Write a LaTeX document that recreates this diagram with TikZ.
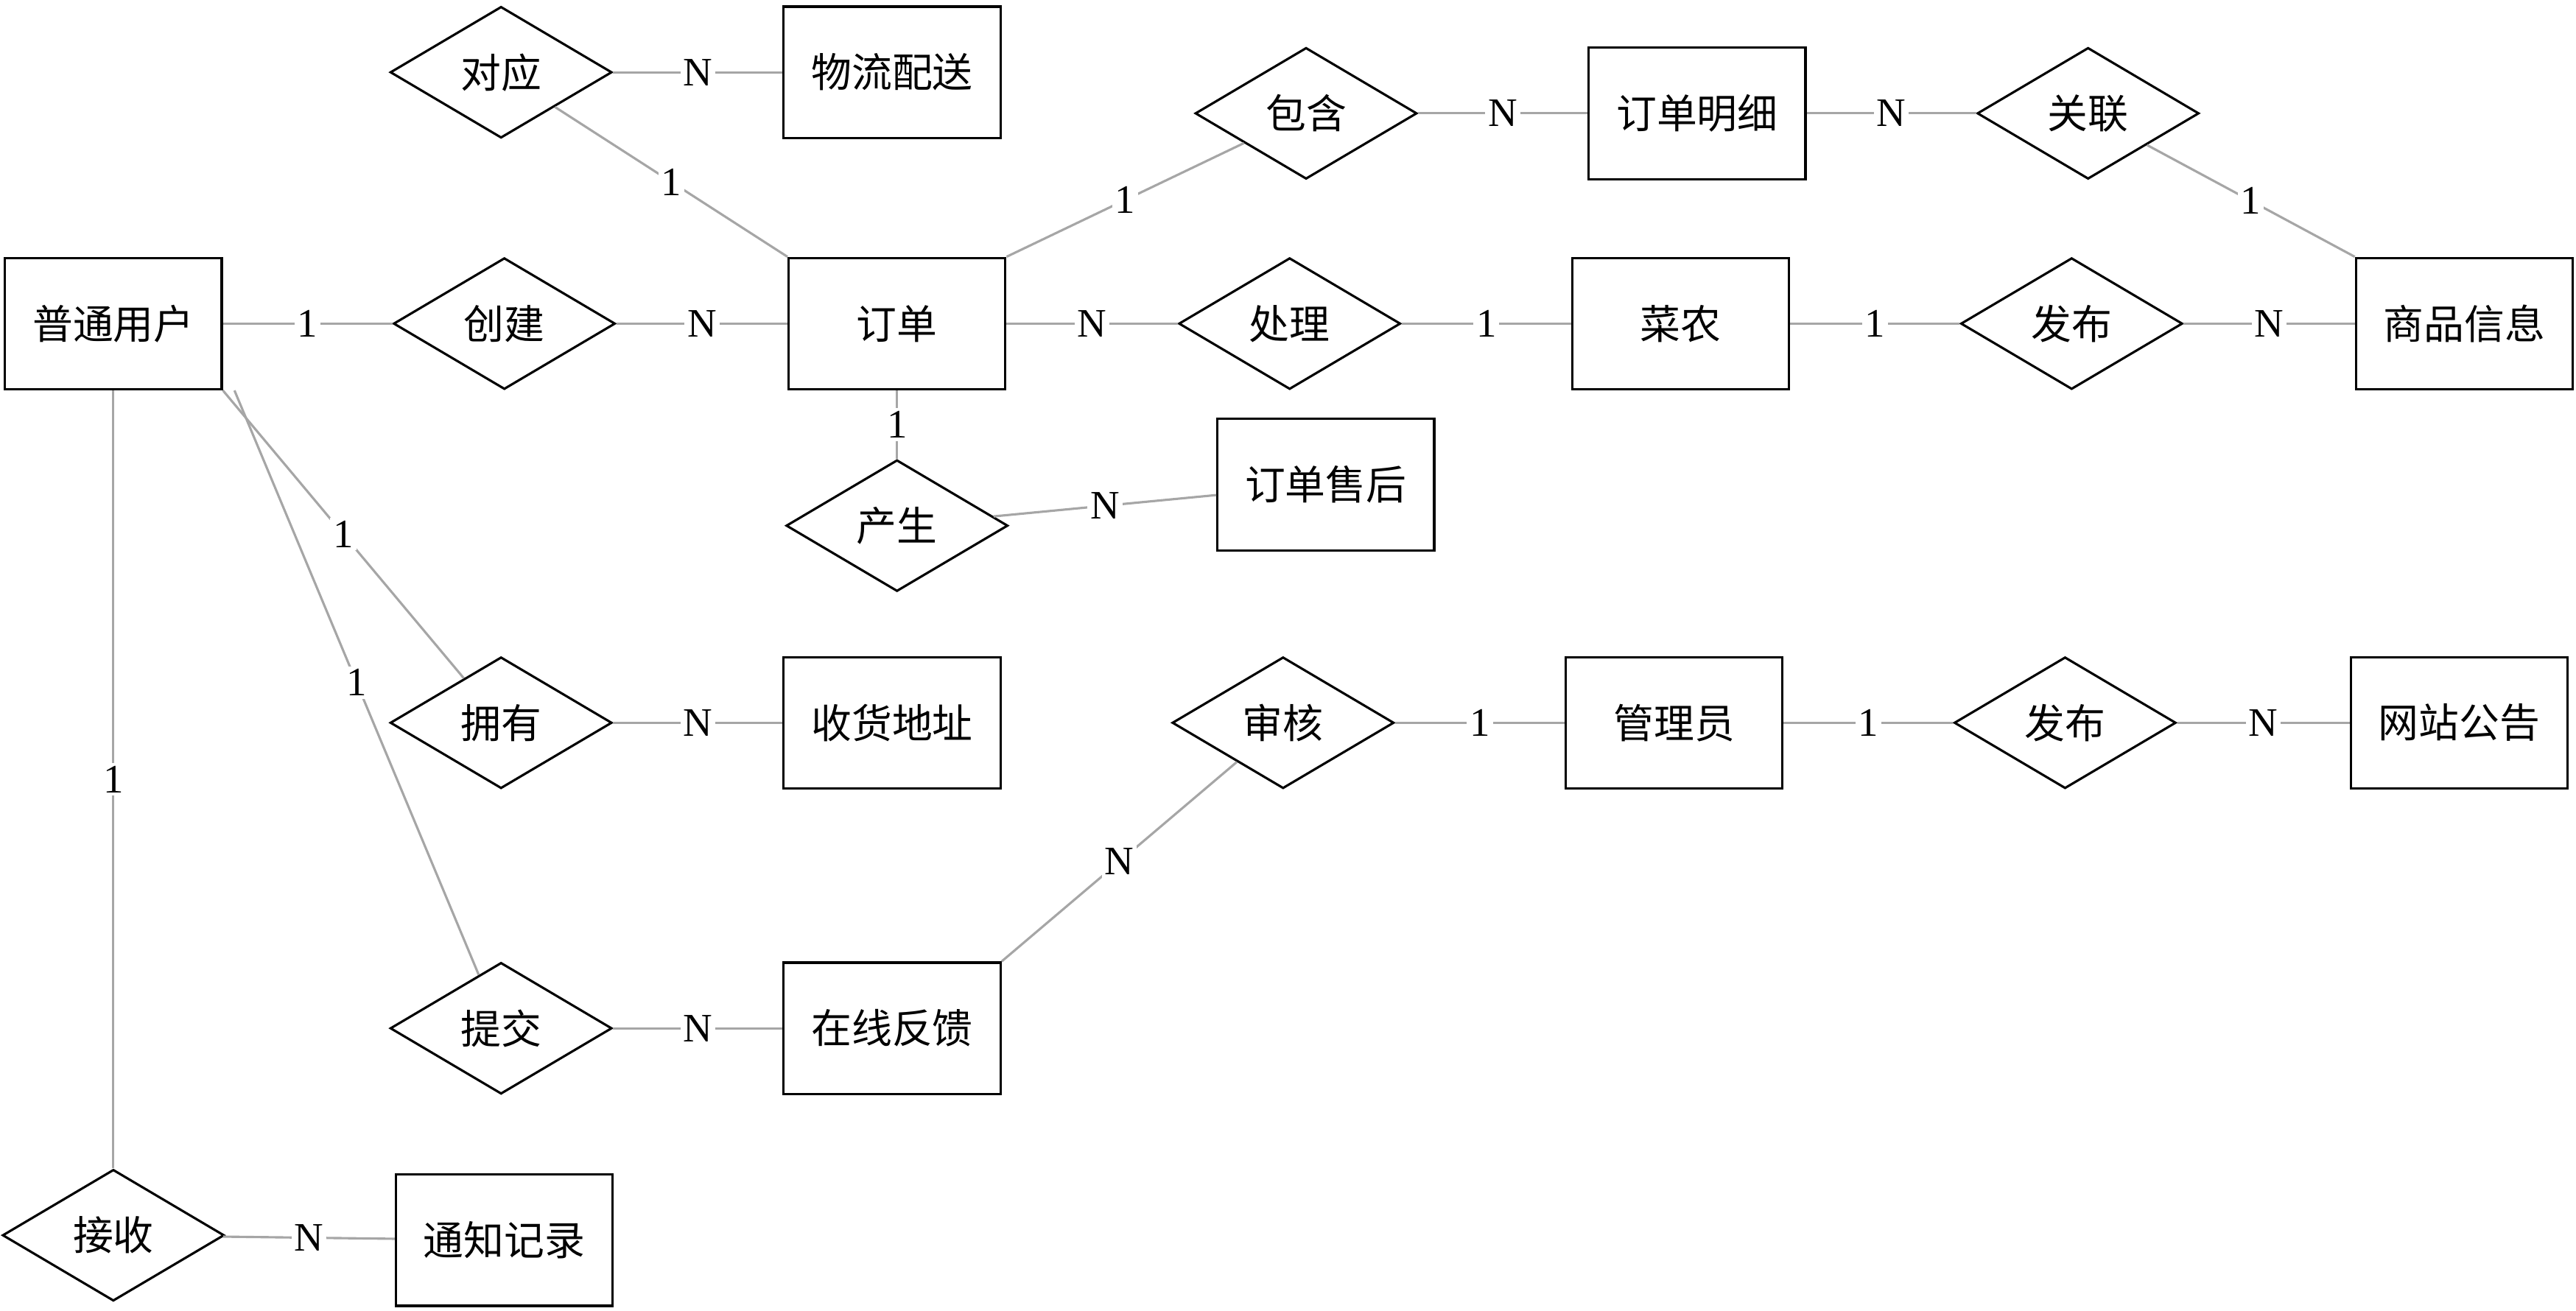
\documentclass[tikz,border=0pt]{standalone}
\usepackage{fontspec}
\setmainfont{Liberation Serif}
\newfontfamily\cjk{Noto Sans CJK SC}
\usetikzlibrary{shapes.geometric}
\tikzset{
  entity/.style={rectangle, draw, thick, minimum width=2.64cm, minimum height=1.6cm, font=\cjk\fontsize{14}{16}\selectfont},
  rel/.style={diamond, draw, thick, minimum width=2.7cm, minimum height=1.6cm, inner sep=0pt, font=\cjk\fontsize{14}{16}\selectfont},
  link/.style={draw=gray!70, thick},
  card/.style={fill=white, inner sep=1pt, font=\fontsize{14}{16}\selectfont}
}
\begin{document}
\begin{tikzpicture}[x=0.02cm, y=-0.02cm]
\useasboundingbox (0,0) rectangle (1568,798);
% entities
\node [entity] (user) at (69,197) {普通用户};
\node [entity] (order) at (546,197) {订单};
\node [entity] (ship) at (543,44) {物流配送};
\node [entity] (detail) at (1033,69) {订单明细};
\node [entity] (goods) at (1500,197) {商品信息};
\node [entity] (farmer) at (1023,197) {菜农};
\node [entity] (after) at (807,295) {订单售后};
\node [entity] (addr) at (543,440) {收货地址};
\node [entity] (admin) at (1019,440) {管理员};
\node [entity] (notice) at (1497,440) {网站公告};
\node [entity] (feedback) at (543,626) {在线反馈};
\node [entity] (msg) at (307,755) {通知记录};
% relations
\node [rel] (create) at (307,197) {创建};
\node [rel] (match) at (305,44) {对应};
\node [rel] (contain) at (795,69) {包含};
\node [rel] (assoc) at (1271,69) {关联};
\node [rel] (handle) at (785,197) {处理};
\node [rel] (pubgoods) at (1261,197) {发布};
\node [rel] (produce) at (546,320) {产生};
\node [rel] (own) at (305,440) {拥有};
\node [rel] (audit) at (781,440) {审核};
\node [rel] (pubnotice) at (1257,440) {发布};
\node [rel] (submit) at (305,626) {提交};
\node [rel] (receive) at (69,752) {接收};
% connectors
\path [link] (user) -- node[card] {1} (create);
\path [link] (create) -- node[card] {N} (order);
\path [link] (match) -- node[card] {N} (ship);
\path [link] (match) -- node[card] {1} (order.north west);
\path [link] (order.north east) -- node[card] {1} (contain);
\path [link] (contain) -- node[card] {N} (detail);
\path [link] (detail) -- node[card] {N} (assoc);
\path [link] (assoc) -- node[card] {1} (goods.north west);
\path [link] (order) -- node[card] {N} (handle);
\path [link] (handle) -- node[card] {1} (farmer);
\path [link] (farmer) -- node[card] {1} (pubgoods);
\path [link] (pubgoods) -- node[card] {N} (goods);
\path [link] (order) -- node[card] {1} (produce);
\path [link] (produce) -- node[card] {N} (after);
\path [link] (user.south east) -- node[card] {1} (own);
\path [link] ([xshift=4pt]user.south east) -- node[card] {1} (submit);
\path [link] (user) -- node[card] {1} (receive);
\path [link] (own) -- node[card] {N} (addr);
\path [link] (submit) -- node[card] {N} (feedback);
\path [link] (feedback.north east) -- node[card] {N} (audit);
\path [link] (audit) -- node[card] {1} (admin);
\path [link] (admin) -- node[card] {1} (pubnotice);
\path [link] (pubnotice) -- node[card] {N} (notice);
\path [link] (receive) -- node[card] {N} (msg);
\end{tikzpicture}
\end{document}
